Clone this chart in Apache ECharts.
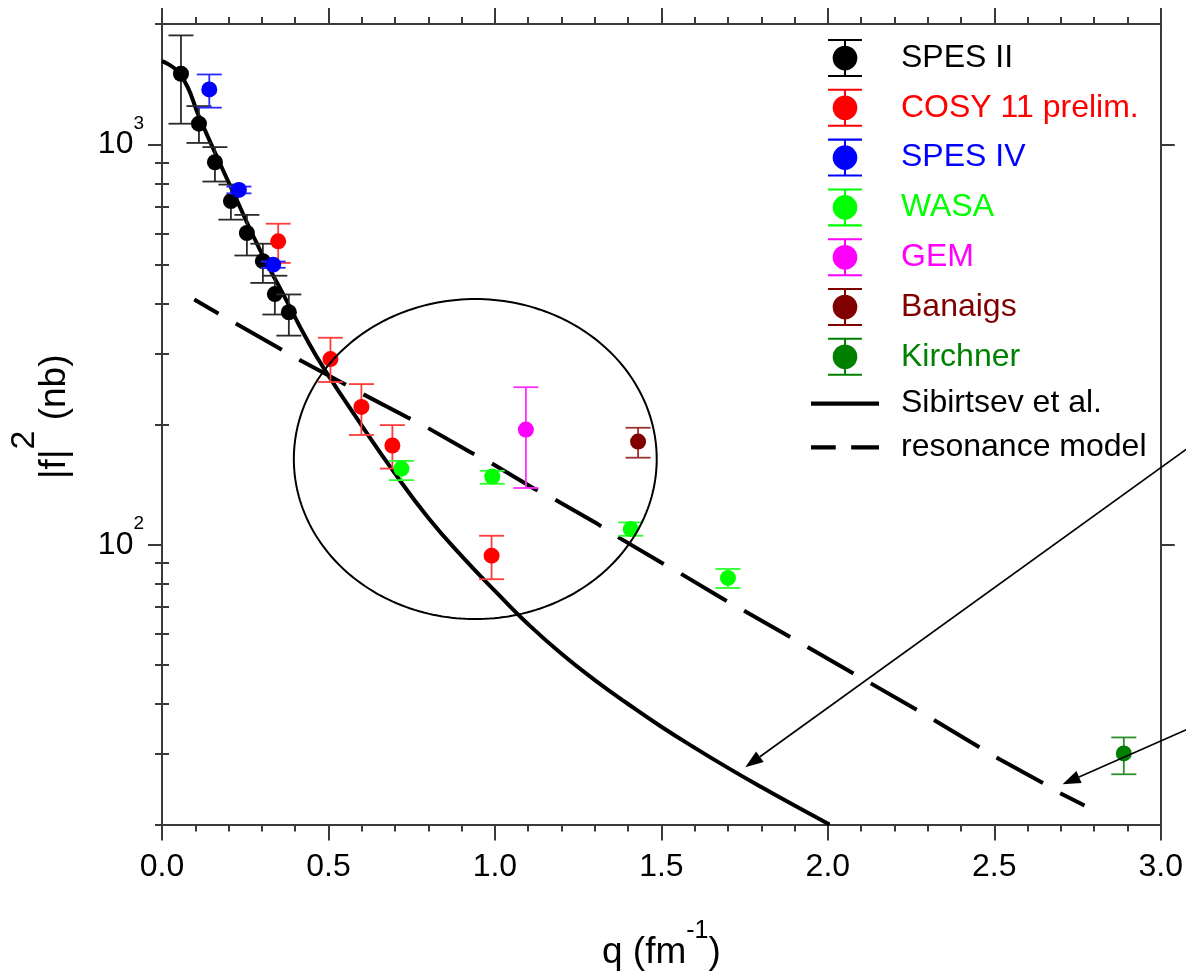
<!DOCTYPE html>
<html>
<head>
<meta charset="utf-8">
<script src="https://cdn.jsdelivr.net/npm/echarts@6/dist/echarts.min.js"></script>
<style>
  html, body { margin: 0; padding: 0; background: #fff; }
  #chart { width: 1186px; height: 976px; }
</style>
</head>
<body>
<div id="chart"></div>
<script>
// q in fm^-1, |f|^2 in nb; Lo / Hi are the ends of each error bar

const spes2Q  = [0.057, 0.111, 0.159, 0.207, 0.255, 0.303, 0.339, 0.381];
const spes2V  = [1502, 1127, 903, 722, 601, 511, 423, 381];
const spes2Lo = [1127, 1009, 808, 649, 528, 451, 376, 333];
const spes2Hi = [1873, 1247, 985, 794, 667, 565, 470, 422];

const cosyQ  = [0.349, 0.506, 0.599, 0.692, 0.990];
const cosyV  = [573, 291, 221, 177, 93.9];
const cosyLo = [506, 255, 188, 155, 82];
const cosyHi = [634, 329, 252, 199, 105.3];

const spes4Q  = [0.142, 0.231, 0.334];
const spes4V  = [1373, 770, 501];
const spes4Lo = [1236, 755, 492];
const spes4Hi = [1496, 785, 510];

const wasaQ  = [0.719, 0.992, 1.408, 1.700];
const wasaV  = [155, 148, 109.4, 82.6];
const wasaLo = [145, 142, 105.3, 78];
const wasaHi = [162, 153, 113.7, 87];

const gemQ  = [1.093];
const gemV  = [194];
const gemLo = [138.6];
const gemHi = [247.5];

const banaigsQ  = [1.430];
const banaigsV  = [181];
const banaigsLo = [165];
const banaigsHi = [196];

const kirchnerQ  = [2.889];
const kirchnerV  = [30.1];
const kirchnerLo = [26.7];
const kirchnerHi = [33.0];

// model curves
const sibirtsevQ = [0, 0.057, 0.114, 0.169, 0.224, 0.269, 0.314, 0.369, 0.434, 0.489, 0.599, 0.699,
                    0.799, 0.899, 1.019, 1.1, 1.2, 1.3, 1.4, 1.5, 1.6, 1.7, 1.8, 1.9, 2.005];
const sibirtsevV = [1616, 1488, 1159, 916, 728, 603, 506, 415, 327, 273.5, 199, 151,
                    117, 93.9, 73.9, 63.3, 53.4, 45.9, 40.0, 35.1, 31.1, 27.7, 24.8, 22.3, 20];

const resonanceQ = [0.097, 0.169, 0.409, 0.548, 0.603, 0.738, 0.793, 0.928, 0.983, 1.118, 1.174,
                    1.309, 1.363, 1.498, 1.552, 1.677, 1.9, 2.1, 2.3, 2.516, 2.646, 2.696, 2.771];
const resonanceV = [410, 378, 291, 252, 238, 208, 197, 170, 161, 138, 130.6,
                    112.6, 105.3, 90.4, 85.3, 73.9, 58, 46.5, 37.3, 29.1, 25.4, 24.0, 22.3];

// axis ticks
const yMajorTicks = [100, 1000];
const yMinorTicks = [20, 30, 40, 50, 60, 70, 80, 90, 200, 300, 400, 500, 600, 700, 800, 900, 2000];

// highlighted region (q range, |f|^2 range) and the two arrows (from -> to)
const ringQ = [0.396, 1.486];
const ringV = [65.2, 411];
const arrowFromQ = [3.12, 3.12];
const arrowFromV = [183.8, 35.8];
const arrowToQ   = [1.752, 2.705];
const arrowToV   = [27.8, 25.2];

const FONT = "'Liberation Sans', Arial, Helvetica, sans-serif";
const AXIS_COLOR = '#3a3a3a';
const axisLine = { show: true, onZero: false, lineStyle: { color: AXIS_COLOR, width: 2 } };
const tickLine = { color: AXIS_COLOR, width: 2 };

function rows(q, v, lo, hi) {
  return q.map((x, i) => [x, v[i], lo[i], hi[i]]);
}
function pairs(q, v) {
  return q.map((x, i) => [x, v[i]]);
}

function errorSeries(name, color, barColor, q, v, lo, hi) {
  return {
    type: 'custom',
    name: name,
    itemStyle: { color: color },
    encode: { x: 0, y: 1 },
    data: rows(q, v, lo, hi),
    z: 3,
    renderItem: function (params, api) {
      const c = api.coord([api.value(0), api.value(1)]);
      const top = api.coord([api.value(0), api.value(3)])[1];
      const bot = api.coord([api.value(0), api.value(2)])[1];
      const x = c[0], w = 12.5;
      const st = { stroke: barColor, lineWidth: 1.8 };
      return {
        type: 'group',
        children: [
          { type: 'line', shape: { x1: x, y1: top, x2: x, y2: bot }, style: st },
          { type: 'line', shape: { x1: x - w, y1: top, x2: x + w, y2: top }, style: st },
          { type: 'line', shape: { x1: x - w, y1: bot, x2: x + w, y2: bot }, style: st },
          { type: 'circle', shape: { cx: x, cy: c[1], r: 8 }, style: { fill: color } }
        ]
      };
    }
  };
}

function annotationItem(params, api) {
  const a = api.coord([ringQ[0], ringV[1]]);
  const b = api.coord([ringQ[1], ringV[0]]);
  const cx = (a[0] + b[0]) / 2, cy = (a[1] + b[1]) / 2;
  const rx = (b[0] - a[0]) / 2, ry = (b[1] - a[1]) / 2;
  const pts = [];
  for (let i = 0; i < 240; i++) {
    const t = i / 240 * 2 * Math.PI;
    pts.push([cx + rx * Math.cos(t), cy + ry * Math.sin(t)]);
  }
  const children = [
    { type: 'polygon', shape: { points: pts }, style: { fill: 'none', stroke: '#000', lineWidth: 2 } }
  ];
  for (let k = 0; k < arrowFromQ.length; k++) {
    const s = api.coord([arrowFromQ[k], arrowFromV[k]]);
    const e = api.coord([arrowToQ[k], arrowToV[k]]);
    const dx = e[0] - s[0], dy = e[1] - s[1];
    const len = Math.hypot(dx, dy), ux = dx / len, uy = dy / len;
    const hl = 18, hw = 6.5;
    const bx = e[0] - ux * hl, by = e[1] - uy * hl;
    children.push({ type: 'line', shape: { x1: s[0], y1: s[1], x2: bx, y2: by },
                    style: { stroke: '#000', lineWidth: 1.6 } });
    children.push({ type: 'polygon',
                    shape: { points: [[e[0], e[1]], [bx - uy * hw, by + ux * hw], [bx + uy * hw, by - ux * hw]] },
                    style: { fill: '#000' } });
  }
  return { type: 'group', children: children };
}

const pointIcon = 'path://M0 0h33v2H0z M15.5 0h2v37h-2z M0 35h33v2H0z M4.5 18.5a12 12 0 1 1 24 0a12 12 0 1 1 -24 0z';
const solidIcon = 'path://M0 0h66v4H0z';
const dashIcon = 'path://M0 0h24v4H0z M39 0h27v4H39z';

const legendItems = [
  { name: 'SPES II', icon: pointIcon, textStyle: { color: '#000000' } },
  { name: 'COSY 11 prelim.', icon: pointIcon, textStyle: { color: '#ff0000' } },
  { name: 'SPES IV', icon: pointIcon, textStyle: { color: '#0000ff' } },
  { name: 'WASA', icon: pointIcon, textStyle: { color: '#00ff00' } },
  { name: 'GEM', icon: pointIcon, textStyle: { color: '#ff00ff' } },
  { name: 'Banaigs', icon: pointIcon, textStyle: { color: '#800000' } },
  { name: 'Kirchner', icon: pointIcon, textStyle: { color: '#008000' } },
  { name: 'Sibirtsev et al.', icon: solidIcon, textStyle: { color: '#000000' } },
  { name: 'resonance model', icon: dashIcon, textStyle: { color: '#000000' } }
];

const yBase = {
  type: 'log', logBase: 10, min: 20, max: 2000,
  splitLine: { show: false }, minorTick: { show: false }, minorSplitLine: { show: false }
};

const xBase = {
  type: 'value', min: 0, max: 3, interval: 0.5,
  axisLine: axisLine,
  axisTick: { show: true, length: 16, lineStyle: tickLine },
  minorTick: { show: true, splitNumber: 5, length: 7, lineStyle: tickLine },
  splitLine: { show: false }
};

const chart = echarts.init(document.getElementById('chart'), null, { renderer: 'canvas' });

chart.setOption({
  animation: false,
  backgroundColor: '#ffffff',
  textStyle: { fontFamily: FONT },
  grid: { left: 160, right: 25, top: 24, bottom: 150, containLabel: false },
  legend: {
    orient: 'vertical',
    left: 811,
    top: 39,
    padding: 0,
    itemWidth: 68,
    itemHeight: 38,
    itemGap: 11.8,
    selectedMode: false,
    itemStyle: { borderWidth: 0 },
    textStyle: { fontFamily: FONT, fontSize: 32, padding: [0, 0, 0, 17] },
    data: legendItems
  },
  xAxis: [
    Object.assign({}, xBase, {
      position: 'bottom',
      axisLabel: {
        show: true, margin: 27, fontSize: 32, lineHeight: 32, color: '#000', fontFamily: FONT,
        formatter: function (v) { return v.toFixed(1); }
      },
      name: '{a|q (fm}{s|-1}{a|)}',
      nameLocation: 'middle',
      nameGap: 94,
      nameTextStyle: {
        fontFamily: FONT, color: '#000',
        rich: {
          a: { fontFamily: FONT, fontSize: 37, lineHeight: 68, color: '#000' },
          s: { fontFamily: FONT, fontSize: 25, lineHeight: 25, verticalAlign: 'top', color: '#000' }
        }
      }
    }),
    Object.assign({}, xBase, { position: 'top', axisLabel: { show: false } })
  ],
  yAxis: [
    Object.assign({}, yBase, {
      position: 'left',
      axisLine: axisLine,
      axisTick: { show: true, customValues: yMajorTicks, length: 14, lineStyle: tickLine },
      axisLabel: {
        show: true, customValues: yMajorTicks, margin: 18, color: '#000', fontFamily: FONT,
        fontSize: 32, lineHeight: 61,
        formatter: function (v) { return '{b|10}{s|' + Math.round(Math.log10(v)) + '}'; },
        rich: {
          b: { fontFamily: FONT, fontSize: 32, lineHeight: 61, color: '#000' },
          s: { fontFamily: FONT, fontSize: 19, lineHeight: 19, verticalAlign: 'top', color: '#000' }
        }
      },
      name: '{a||f|}{s|2}{a| (nb)}',
      nameLocation: 'middle',
      nameRotate: 90,
      nameGap: 60,
      nameTextStyle: {
        fontFamily: FONT, color: '#000', padding: [0, 0, 0, 15],
        rich: {
          a: { fontFamily: FONT, fontSize: 37, lineHeight: 94, color: '#000' },
          s: { fontFamily: FONT, fontSize: 34, lineHeight: 34, verticalAlign: 'top', color: '#000' }
        }
      }
    }),
    Object.assign({}, yBase, {
      position: 'left',
      axisLine: { show: false },
      axisTick: { show: true, customValues: yMinorTicks, length: 7, lineStyle: tickLine },
      axisLabel: { show: false }
    }),
    Object.assign({}, yBase, {
      position: 'right',
      axisLine: axisLine,
      axisTick: { show: true, customValues: yMajorTicks, length: 14, lineStyle: tickLine },
      axisLabel: { show: false }
    }),
    Object.assign({}, yBase, {
      position: 'right',
      axisLine: { show: false },
      axisTick: { show: true, customValues: yMinorTicks, length: 7, lineStyle: tickLine },
      axisLabel: { show: false }
    })
  ],
  series: [
    {
      type: 'line', name: 'Sibirtsev et al.',
      data: pairs(sibirtsevQ, sibirtsevV),
      symbol: 'none', showSymbol: false, smooth: 0.5,
      itemStyle: { color: '#000' },
      lineStyle: { color: '#000', width: 4 },
      z: 2
    },
    {
      type: 'line', name: 'resonance model',
      data: pairs(resonanceQ, resonanceV),
      symbol: 'none', showSymbol: false, smooth: false,
      itemStyle: { color: '#000' },
      lineStyle: { color: '#000', width: 4, type: [53, 20], dashOffset: 25 },
      z: 2
    },
    errorSeries('SPES II', '#000000', '#2a2a2a', spes2Q, spes2V, spes2Lo, spes2Hi),
    errorSeries('COSY 11 prelim.', '#ff0000', '#ff3c3c', cosyQ, cosyV, cosyLo, cosyHi),
    errorSeries('SPES IV', '#0000ff', '#2a2aff', spes4Q, spes4V, spes4Lo, spes4Hi),
    errorSeries('WASA', '#00ff00', '#2cff2c', wasaQ, wasaV, wasaLo, wasaHi),
    errorSeries('GEM', '#ff00ff', '#ff2cff', gemQ, gemV, gemLo, gemHi),
    errorSeries('Banaigs', '#800000', '#9a3030', banaigsQ, banaigsV, banaigsLo, banaigsHi),
    errorSeries('Kirchner', '#008000', '#2a8f2a', kirchnerQ, kirchnerV, kirchnerLo, kirchnerHi),
    {
      type: 'custom', name: 'annotations', data: [[1, 100]],
      silent: true, clip: false, z: 4,
      renderItem: annotationItem
    }
  ]
});
</script>
</body>
</html>
